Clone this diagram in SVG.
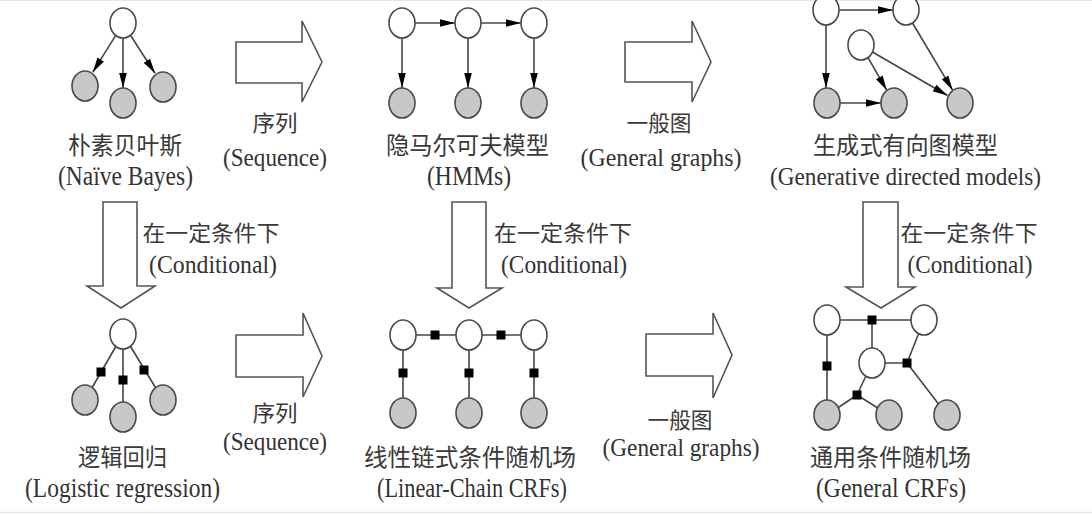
<svg xmlns="http://www.w3.org/2000/svg" width="1092" height="514" viewBox="0 0 1092 514">
<defs>
<style>
.zh{font-family:"Noto Sans CJK SC","Noto Sans",sans-serif;font-size:24px;fill:#3a3a3a;text-anchor:middle}
.zs{font-family:"Noto Sans CJK SC","Noto Sans",sans-serif;font-size:22px;fill:#3a3a3a;text-anchor:middle}
.en{font-family:"Liberation Serif",serif;font-size:28px;fill:#333;text-anchor:middle}
.es{font-family:"Liberation Serif",serif;font-size:26px;fill:#333;text-anchor:middle}
.w{fill:#fff;stroke:#4a4a4a;stroke-width:1.6}
.g{fill:#c8c8c8;stroke:#4a4a4a;stroke-width:1.6}
.e{fill:none;stroke:#444;stroke-width:1.6}
.a{fill:none;stroke:#444;stroke-width:1.6;marker-end:url(#ah)}
.blk{fill:#fff;stroke:#555;stroke-width:1.6;stroke-linejoin:miter}
.f{fill:#000}
</style>
<marker id="ah" markerUnits="userSpaceOnUse" markerWidth="15" markerHeight="10" viewBox="0 0 15 10" refX="15" refY="5" orient="auto">
<path d="M0,1.2 L15,5 L0,8.8 Z" fill="#000"/>
</marker>
</defs>
<rect width="1092" height="514" fill="#fff"/>
<line x1="0" y1="0.5" x2="1092" y2="0.5" stroke="#e6e6e6" stroke-width="1"/>
<line x1="0" y1="512.5" x2="1092" y2="512.5" stroke="#e6e6e6" stroke-width="1.5"/>

<g id="transitions">
<path class="blk" d="M236,42 H302 V21 L322,62 L302,102 V83 H236 Z"/>
<path class="blk" d="M625,42 H692 V21 L711,62 L692,102 V82 H625 Z"/>
<path class="blk" d="M236,335 H303 V313 L322,356 L303,397 V377 H236 Z"/>
<path class="blk" d="M646,334 H713 V313 L732,355 L713,398 V376 H646 Z"/>
<path class="blk" d="M103,202 H137 V286 H155 L121,308 L87,286 H103 Z"/>
<path class="blk" d="M452,202 H486 V288 H502 L469,308 L437,288 H452 Z"/>
<path class="blk" d="M863,202 H898 V287 H915 L881,308 L846,287 H863 Z"/>
<text class="zs" x="275" y="131" textLength="45" lengthAdjust="spacingAndGlyphs">序列</text>
<text class="es" x="275" y="166" textLength="104" lengthAdjust="spacingAndGlyphs">(Sequence)</text>
<text class="zs" x="659" y="131" textLength="65" lengthAdjust="spacingAndGlyphs">一般图</text>
<text class="es" x="661" y="166" textLength="161" lengthAdjust="spacingAndGlyphs">(General graphs)</text>
<text class="zs" x="275" y="421" textLength="45" lengthAdjust="spacingAndGlyphs">序列</text>
<text class="es" x="275" y="450" textLength="104" lengthAdjust="spacingAndGlyphs">(Sequence)</text>
<text class="zs" x="680" y="428" textLength="65" lengthAdjust="spacingAndGlyphs">一般图</text>
<text class="es" x="681" y="456" textLength="157" lengthAdjust="spacingAndGlyphs">(General graphs)</text>
<text class="zs" x="211" y="241" textLength="137" lengthAdjust="spacingAndGlyphs">在一定条件下</text>
<text class="es" x="213" y="273" textLength="128" lengthAdjust="spacingAndGlyphs">(Conditional)</text>
<text class="zs" x="563" y="241" textLength="138" lengthAdjust="spacingAndGlyphs">在一定条件下</text>
<text class="es" x="564" y="273" textLength="126" lengthAdjust="spacingAndGlyphs">(Conditional)</text>
<text class="zs" x="969" y="241" textLength="137" lengthAdjust="spacingAndGlyphs">在一定条件下</text>
<text class="es" x="970" y="273" textLength="125" lengthAdjust="spacingAndGlyphs">(Conditional)</text>
</g>

<g id="connectors">
<line class="a" x1="115.4" y1="35.8" x2="92.8" y2="72.2"/>
<line class="a" x1="123" y1="38" x2="123" y2="88"/>
<line class="a" x1="130.8" y1="35.7" x2="155" y2="73.3"/>
<line class="a" x1="415" y1="23" x2="455" y2="23"/>
<line class="a" x1="481" y1="23" x2="521" y2="23"/>
<line class="a" x1="402" y1="38" x2="402" y2="88"/>
<line class="a" x1="468" y1="38" x2="468" y2="88"/>
<line class="a" x1="534" y1="38" x2="534" y2="88"/>
<line class="a" x1="839" y1="10" x2="893" y2="10"/>
<line class="a" x1="826" y1="25" x2="826" y2="88"/>
<line class="a" x1="912.5" y1="23" x2="952.7" y2="90.3"/>
<line class="a" x1="868" y1="57.6" x2="886.8" y2="90.3"/>
<line class="a" x1="872.5" y1="52" x2="947.5" y2="95.5"/>
<line class="a" x1="840" y1="103" x2="881" y2="103"/>
<line class="e" x1="123" y1="334" x2="85" y2="400"/>
<line class="e" x1="123" y1="334" x2="123" y2="417"/>
<line class="e" x1="123" y1="334" x2="163" y2="400"/>
<rect class="f" x="96.5" y="367.5" width="9" height="9"/>
<rect class="f" x="118.5" y="375.5" width="9" height="9"/>
<rect class="f" x="139.5" y="365.5" width="9" height="9"/>
<line class="e" x1="403" y1="335" x2="534" y2="335"/>
<line class="e" x1="403" y1="335" x2="403" y2="413"/>
<line class="e" x1="469" y1="335" x2="469" y2="413"/>
<line class="e" x1="534" y1="335" x2="534" y2="413"/>
<rect class="f" x="430.5" y="330.5" width="9" height="9"/>
<rect class="f" x="496.5" y="330.5" width="9" height="9"/>
<rect class="f" x="398.5" y="368.5" width="9" height="9"/>
<rect class="f" x="464.5" y="368.5" width="9" height="9"/>
<rect class="f" x="529.5" y="368.5" width="9" height="9"/>
<line class="e" x1="827" y1="320" x2="924" y2="320"/>
<line class="e" x1="872" y1="320" x2="872" y2="363"/>
<line class="e" x1="827" y1="320" x2="827" y2="415"/>
<line class="e" x1="924" y1="320" x2="907" y2="363"/>
<line class="e" x1="907" y1="363" x2="872" y2="363"/>
<line class="e" x1="907" y1="363" x2="947" y2="415"/>
<line class="e" x1="872" y1="363" x2="857" y2="395"/>
<line class="e" x1="857" y1="395" x2="827" y2="415"/>
<line class="e" x1="857" y1="395" x2="889" y2="415"/>
<rect class="f" x="867.5" y="315.5" width="9" height="9"/>
<rect class="f" x="822.5" y="361.5" width="9" height="9"/>
<rect class="f" x="902.5" y="358.5" width="9" height="9"/>
<rect class="f" x="852.5" y="390.5" width="9" height="9"/>
</g>

<g id="naive-bayes">
<ellipse class="w" cx="123" cy="23" rx="13" ry="15"/>
<ellipse class="g" cx="85" cy="86" rx="13" ry="15"/>
<ellipse class="g" cx="123" cy="103" rx="13" ry="15"/>
<ellipse class="g" cx="163" cy="87" rx="13" ry="15"/>
<text class="zh" x="125" y="154" textLength="114" lengthAdjust="spacingAndGlyphs">朴素贝叶斯</text>
<text class="en" x="125.5" y="185" textLength="135" lengthAdjust="spacingAndGlyphs">(Naïve Bayes)</text>
</g>

<g id="hmm">
<ellipse class="w" cx="402" cy="23" rx="13" ry="15"/>
<ellipse class="w" cx="468" cy="23" rx="13" ry="15"/>
<ellipse class="w" cx="534" cy="23" rx="13" ry="15"/>
<ellipse class="g" cx="402" cy="103" rx="13" ry="15"/>
<ellipse class="g" cx="468" cy="103" rx="13" ry="15"/>
<ellipse class="g" cx="534" cy="103" rx="13" ry="15"/>
<text class="zh" x="467.5" y="154" textLength="163" lengthAdjust="spacingAndGlyphs">隐马尔可夫模型</text>
<text class="en" x="469" y="185" textLength="84" lengthAdjust="spacingAndGlyphs">(HMMs)</text>
</g>

<g id="generative">
<ellipse class="w" cx="826" cy="10" rx="13" ry="15"/>
<ellipse class="w" cx="906" cy="10" rx="13" ry="15"/>
<ellipse class="w" cx="861" cy="45" rx="13" ry="15"/>
<ellipse class="g" cx="827" cy="103" rx="13" ry="15"/>
<ellipse class="g" cx="894" cy="103" rx="13" ry="15"/>
<ellipse class="g" cx="960" cy="103" rx="13" ry="15"/>
<text class="zh" x="905.5" y="154" textLength="185" lengthAdjust="spacingAndGlyphs">生成式有向图模型</text>
<text class="es" x="905.5" y="185" textLength="271" lengthAdjust="spacingAndGlyphs">(Generative directed models)</text>
</g>

<g id="logistic">
<ellipse class="w" cx="123" cy="334" rx="13" ry="15"/>
<ellipse class="g" cx="85" cy="400" rx="13" ry="15"/>
<ellipse class="g" cx="123" cy="417" rx="13" ry="15"/>
<ellipse class="g" cx="163" cy="400" rx="13" ry="15"/>
<text class="zh" x="122.5" y="466" textLength="89" lengthAdjust="spacingAndGlyphs">逻辑回归</text>
<text class="en" x="122.5" y="497" textLength="195" lengthAdjust="spacingAndGlyphs">(Logistic regression)</text>
</g>

<g id="linear-crf">
<ellipse class="w" cx="403" cy="335" rx="13" ry="15"/>
<ellipse class="w" cx="469" cy="335" rx="13" ry="15"/>
<ellipse class="w" cx="534" cy="335" rx="13" ry="15"/>
<ellipse class="g" cx="403" cy="413" rx="13" ry="15"/>
<ellipse class="g" cx="469" cy="413" rx="13" ry="15"/>
<ellipse class="g" cx="534" cy="413" rx="13" ry="15"/>
<text class="zh" x="470" y="466" textLength="212" lengthAdjust="spacingAndGlyphs">线性链式条件随机场</text>
<text class="en" x="472" y="497" textLength="190" lengthAdjust="spacingAndGlyphs">(Linear-Chain CRFs)</text>
</g>

<g id="general-crf">
<ellipse class="w" cx="827" cy="320" rx="13" ry="15"/>
<ellipse class="w" cx="924" cy="320" rx="13" ry="15"/>
<ellipse class="w" cx="872" cy="363" rx="13" ry="15"/>
<ellipse class="g" cx="827" cy="415" rx="13" ry="15"/>
<ellipse class="g" cx="889" cy="415" rx="13" ry="15"/>
<ellipse class="g" cx="947" cy="415" rx="13" ry="15"/>
<text class="zh" x="890.5" y="466" textLength="161" lengthAdjust="spacingAndGlyphs">通用条件随机场</text>
<text class="en" x="891" y="497" textLength="150" lengthAdjust="spacingAndGlyphs">(General CRFs)</text>
</g>
</svg>
